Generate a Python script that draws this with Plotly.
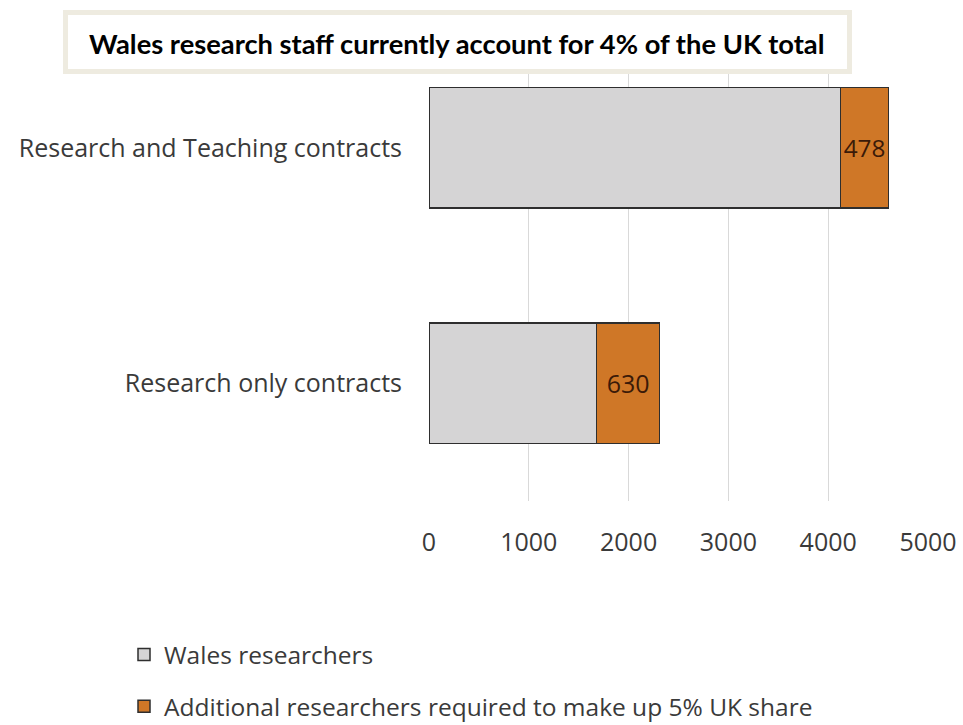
import plotly.graph_objects as go

# Staff categories and counts
categories = ["Research and Teaching contracts", "Research only contracts"]
wales_researchers = [4125, 1680]
additional_required = [478, 630]
series_names = ["Wales researchers", "Additional researchers required to make up 5% UK share"]
x_ticks = [0, 1000, 2000, 3000, 4000, 5000]
title_text = "Wales research staff currently account for 4% of the UK total"

W, H = 963, 725
L, R, T, B = 429, 35, 30, 224
pw, ph = W - L - R, H - T - B


def px_x(p):
    return (p - L) / pw


def px_y(p):
    return (H - B - p) / ph


label_font = dict(family="Open Sans", size=25, color="#3a3a3a")
legend_font = dict(family="Open Sans", size=24.5, color="#3a3a3a")

fig = go.Figure()
fig.add_trace(go.Bar(
    y=categories, x=wales_researchers, orientation="h", name=series_names[0],
    marker=dict(color="#d5d4d5", line=dict(color="#2e2e2e", width=1.5)),
    legendgroup="a",
))
fig.add_trace(go.Bar(
    y=categories, x=additional_required, orientation="h", name=series_names[1],
    marker=dict(color="#cf7727", line=dict(color="#2e2e2e", width=1.5)),
    text=[str(v) for v in additional_required], textposition="inside",
    insidetextanchor="middle", textangle=0,
    textfont=dict(family="Open Sans", size=25, color="#3b1a08"),
    legendgroup="b",
))

fig.update_layout(
    width=W, height=H,
    margin=dict(l=L, r=R, t=T, b=B, pad=0, autoexpand=False),
    barmode="stack", bargap=0.487,
    plot_bgcolor="white", paper_bgcolor="white",
    xaxis=dict(range=[0, 5000], tickvals=x_ticks, showgrid=True,
               gridcolor="#d9d9d9", gridwidth=1, zeroline=False,
               showline=False, ticks="", ticklabelstandoff=24,
               tickfont=label_font, fixedrange=True, automargin=False),
    yaxis=dict(autorange="reversed", showgrid=False, zeroline=False,
               showline=False, ticks="", ticklabelstandoff=26,
               tickfont=label_font, fixedrange=True, automargin=False),
    legend=dict(orientation="v", x=px_x(124), y=px_y(632), xanchor="left",
                yanchor="top", font=legend_font, tracegroupgap=17,
                traceorder="grouped", bgcolor="rgba(0,0,0,0)",
                borderwidth=0),
    showlegend=True,
    uniformtext=dict(mode=None),
)

# Title box
fig.add_shape(type="rect", xref="paper", yref="paper", layer="above",
              x0=px_x(65.5), x1=px_x(849.5), y0=px_y(71.5), y1=px_y(12.5),
              fillcolor="white", line=dict(color="#eeebe0", width=5))
fig.add_annotation(xref="paper", yref="paper", x=px_x(457), y=px_y(43),
                   xanchor="center", yanchor="middle", showarrow=False,
                   text="<b>" + title_text + "</b>",
                   font=dict(family="Lato", size=27.3, color="#000000"))

fig.write_html("out.html")
